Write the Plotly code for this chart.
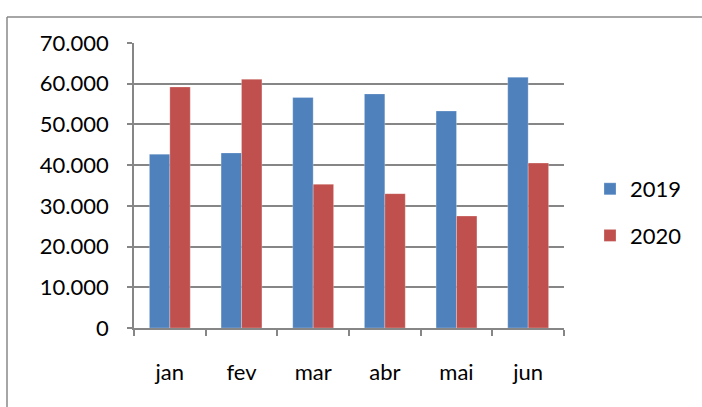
import plotly.graph_objects as go

months = ["jan", "fev", "mar", "abr", "mai", "jun"]
values_2019 = [42700, 43000, 56600, 57500, 53300, 61600]
values_2020 = [59200, 61100, 35300, 33000, 27500, 40500]
series_names = ["2019", "2020"]
colors = ["#4F81BD", "#C0504D"]
tick_vals = [0, 10000, 20000, 30000, 40000, 50000, 60000, 70000]
tick_text = ["0", "10.000", "20.000", "30.000", "40.000", "50.000", "60.000", "70.000"]

fig = go.Figure()
for name, vals, col in zip(series_names, [values_2019, values_2020], colors):
    fig.add_trace(go.Bar(x=months, y=vals, name=name, legendgroup=name,
                         marker=dict(color=col, line=dict(color="rgba(255,255,255,0.5)", width=0.5))))

FONT = "Lato, Open Sans, sans-serif"
FS = 22
W, H = 702, 407
L, R, T, B = 134, 138, 43, 79
pw, ph = W - L - R, H - T - B

def px_x(p):
    return (p - L) / pw

def px_y(p):
    return (H - B - p) / ph

frame = dict(color="#888888", width=1.5)

fig.update_layout(
    width=W, height=H,
    margin=dict(l=L, r=R, t=T, b=B, autoexpand=False),
    paper_bgcolor="white", plot_bgcolor="white",
    barmode="group", bargap=0.43, bargroupgap=0,
    font=dict(family=FONT, size=FS, color="#000000"),
    legend=dict(x=px_x(590), y=px_y(168), xanchor="left", yanchor="top",
                font=dict(size=FS), itemwidth=30, tracegroupgap=15),
    xaxis=dict(showline=True, linecolor="#868686", linewidth=1.5,
               ticks="outside", tickson="boundaries", ticklen=6, tickcolor="#868686",
               tickwidth=1.5, showgrid=False, tickfont=dict(size=FS),
               ticklabelstandoff=24),
    yaxis=dict(range=[0, 70000], tickvals=tick_vals, ticktext=tick_text,
               showline=True, linecolor="#868686", linewidth=1.5,
               ticks="outside", ticklen=5, tickcolor="#868686", tickwidth=1.5,
               showgrid=True, gridcolor="#868686", gridwidth=1.5,
               zeroline=False, tickfont=dict(size=FS), ticklabelstandoff=14),
    shapes=[
        dict(type="line", xref="paper", yref="paper",
             x0=px_x(7), x1=px_x(710), y0=px_y(17), y1=px_y(17), line=frame, layer="below"),
        dict(type="line", xref="paper", yref="paper",
             x0=px_x(7), x1=px_x(7), y0=px_y(17), y1=px_y(430), line=frame, layer="below"),
    ],
)

fig.write_html("out.html", config={"displayModeBar": False},
               post_script="document.body.style.margin='0';")
